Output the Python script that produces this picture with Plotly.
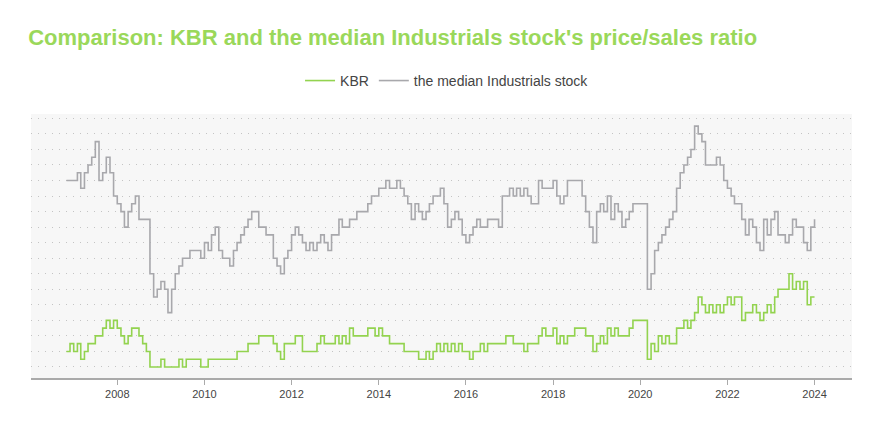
import pandas as pd
import plotly.graph_objects as go

# Monthly observations, Nov 2006 .. Jan 2024
start_month = "2006-11-01"
end_month = "2024-01-01"

kbr_ps = [
    0.3, 0.35,  # 2006
    0.3, 0.35, 0.25, 0.3, 0.35, 0.35, 0.4, 0.4, 0.45, 0.5, 0.45, 0.5,  # 2007
    0.45, 0.4, 0.35, 0.4, 0.45, 0.45, 0.4, 0.35, 0.3, 0.2, 0.2, 0.2,  # 2008
    0.25, 0.2, 0.2, 0.2, 0.2, 0.25, 0.2, 0.25, 0.25, 0.25, 0.25, 0.2,  # 2009
    0.2, 0.25, 0.25, 0.25, 0.25, 0.25, 0.25, 0.25, 0.25, 0.3, 0.3, 0.3,  # 2010
    0.35, 0.35, 0.35, 0.4, 0.4, 0.4, 0.4, 0.35, 0.3, 0.25, 0.35, 0.35,  # 2011
    0.35, 0.4, 0.4, 0.3, 0.3, 0.3, 0.3, 0.35, 0.4, 0.35, 0.35, 0.35,  # 2012
    0.4, 0.35, 0.4, 0.35, 0.45, 0.4, 0.4, 0.4, 0.4, 0.45, 0.45, 0.4,  # 2013
    0.45, 0.4, 0.4, 0.35, 0.35, 0.35, 0.35, 0.3, 0.3, 0.3, 0.3, 0.25,  # 2014
    0.25, 0.3, 0.25, 0.3, 0.35, 0.3, 0.35, 0.3, 0.35, 0.3, 0.35, 0.3,  # 2015
    0.3, 0.25, 0.3, 0.3, 0.35, 0.3, 0.35, 0.35, 0.35, 0.35, 0.35, 0.4,  # 2016
    0.4, 0.35, 0.35, 0.35, 0.3, 0.35, 0.35, 0.35, 0.4, 0.45, 0.4, 0.4,  # 2017
    0.45, 0.35, 0.4, 0.35, 0.4, 0.4, 0.45, 0.45, 0.45, 0.4, 0.4, 0.3,  # 2018
    0.35, 0.4, 0.35, 0.45, 0.4, 0.45, 0.4, 0.4, 0.4, 0.45, 0.5, 0.5,  # 2019
    0.5, 0.5, 0.25, 0.35, 0.3, 0.4, 0.35, 0.4, 0.35, 0.35, 0.45, 0.45,  # 2020
    0.5, 0.45, 0.5, 0.55, 0.65, 0.6, 0.55, 0.6, 0.55, 0.6, 0.55, 0.6,  # 2021
    0.65, 0.6, 0.65, 0.65, 0.5, 0.55, 0.55, 0.6, 0.55, 0.5, 0.55, 0.6,  # 2022
    0.55, 0.65, 0.7, 0.7, 0.7, 0.8, 0.7, 0.75, 0.7, 0.75, 0.6, 0.65,  # 2023
    0.65,  # 2024
]

median_industrials_ps = [
    1.4, 1.4,  # 2006
    1.4, 1.45, 1.35, 1.45, 1.5, 1.55, 1.65, 1.4, 1.45, 1.55, 1.45, 1.3,  # 2007
    1.25, 1.2, 1.1, 1.2, 1.25, 1.3, 1.15, 1.15, 1.15, 0.8, 0.65, 0.7,  # 2008
    0.75, 0.7, 0.55, 0.7, 0.8, 0.85, 0.9, 0.9, 0.95, 0.95, 0.95, 0.9,  # 2009
    1.0, 0.95, 1.05, 1.1, 0.95, 0.9, 0.9, 0.85, 0.95, 1.0, 1.05, 1.1,  # 2010
    1.15, 1.2, 1.2, 1.1, 1.1, 1.05, 1.05, 0.9, 0.85, 0.8, 0.9, 0.95,  # 2011
    1.05, 1.1, 1.05, 1.0, 0.95, 1.0, 0.95, 1.0, 1.05, 1.0, 0.95, 1.05,  # 2012
    1.05, 1.15, 1.1, 1.1, 1.15, 1.15, 1.2, 1.2, 1.2, 1.25, 1.3, 1.3,  # 2013
    1.35, 1.35, 1.4, 1.35, 1.35, 1.4, 1.35, 1.3, 1.25, 1.15, 1.25, 1.2,  # 2014
    1.15, 1.2, 1.25, 1.3, 1.3, 1.35, 1.25, 1.1, 1.15, 1.2, 1.15, 1.05,  # 2015
    1.0, 1.05, 1.1, 1.15, 1.1, 1.1, 1.15, 1.15, 1.15, 1.1, 1.3, 1.3,  # 2016
    1.35, 1.3, 1.35, 1.3, 1.35, 1.3, 1.25, 1.25, 1.4, 1.35, 1.35, 1.35,  # 2017
    1.4, 1.3, 1.25, 1.3, 1.4, 1.4, 1.4, 1.4, 1.3, 1.2, 1.1, 1.0,  # 2018
    1.2, 1.25, 1.2, 1.3, 1.15, 1.25, 1.2, 1.1, 1.15, 1.2, 1.25, 1.25,  # 2019
    1.25, 1.25, 0.7, 0.8, 0.95, 1.0, 1.05, 1.1, 1.15, 1.2, 1.35, 1.45,  # 2020
    1.5, 1.55, 1.6, 1.75, 1.7, 1.65, 1.5, 1.5, 1.5, 1.55, 1.5, 1.4,  # 2021
    1.35, 1.3, 1.25, 1.25, 1.15, 1.05, 1.15, 1.1, 1.0, 0.95, 1.15, 1.05,  # 2022
    1.15, 1.2, 1.05, 1.05, 1.0, 1.05, 1.15, 1.1, 1.1, 1.0, 0.95, 1.1,  # 2023
    1.15,  # 2024
]

dates = pd.date_range(start_month, end_month, freq="MS")
tick_years = ["2008", "2010", "2012", "2014", "2016", "2018", "2020", "2022", "2024"]

GREEN = "#93d34f"
GRAY = "#a8a8ac"

fig = go.Figure()
fig.add_trace(go.Scatter(
    x=dates, y=kbr_ps, name="KBR", mode="lines",
    line=dict(color=GREEN, width=1.6, shape="hv"),
))
fig.add_trace(go.Scatter(
    x=dates, y=median_industrials_ps, name="the median Industrials stock", mode="lines",
    line=dict(color=GRAY, width=1.6, shape="hv"),
))

fig.update_layout(
    width=880, height=440,
    margin=dict(l=31, r=28, t=114, b=62),
    paper_bgcolor="white",
    plot_bgcolor="#f7f7f7",
    font=dict(family="Liberation Sans, Arial, sans-serif", color="#444444"),
    title=dict(
        text="<b>Comparison: KBR and the median Industrials stock's price/sales ratio</b>",
        x=0.032, xanchor="left", y=0.916, yanchor="middle",
        font=dict(size=22, color="#9ad85a", family="Liberation Sans, Arial, sans-serif"),
    ),
    legend=dict(
        orientation="h", x=0.508, xanchor="center", y=0.816, yanchor="middle",
        xref="container", yref="container",
        font=dict(size=14, color="#444444"), bgcolor="rgba(0,0,0,0)",
    ),
    showlegend=True,
)

fig.update_xaxes(
    type="date",
    range=["2006-01-08", "2024-11-10"],
    tickvals=[f"{y}-01-01" for y in tick_years],
    ticktext=tick_years,
    showgrid=False, zeroline=False,
    showline=True, linecolor="#aaaaaa", linewidth=2,
    ticks="outside", ticklen=5, tickcolor="#aaaaaa", tickwidth=1,
    tickfont=dict(size=11, color="#444444"),
)
fig.update_yaxes(
    range=[0.129, 1.828],
    tick0=0.2, dtick=0.1,
    showticklabels=False,
    showgrid=True, gridcolor="#c4c4c4", gridwidth=1, griddash="1px,6px",
    zeroline=False, showline=False, ticks="",
)

fig.write_html(
    "out.html",
    config={"displayModeBar": False},
    post_script="document.body.style.margin='0';",
)
